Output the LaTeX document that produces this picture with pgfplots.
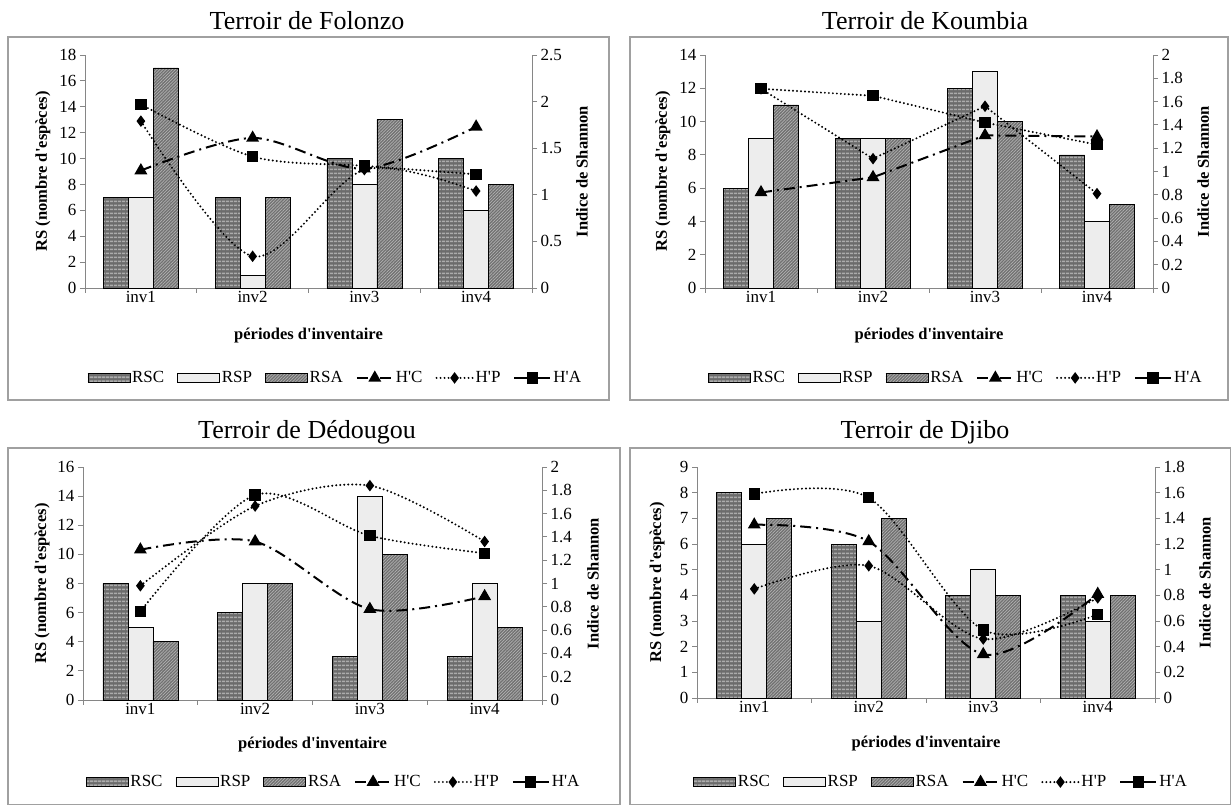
\documentclass[border=0pt]{standalone}
\usepackage{fontspec}
\setmainfont{Liberation Serif}
\usepackage{pgfplots}
\pgfplotsset{compat=1.18}
\usetikzlibrary{patterns.meta}
\definecolor{axgray}{RGB}{134,134,134}
\definecolor{framegray}{RGB}{160,160,160}
\definecolor{rscbg}{RGB}{108,108,108}
\definecolor{rscln}{RGB}{172,172,172}
\definecolor{rspbg}{RGB}{244,244,244}
\definecolor{rspdot}{RGB}{165,165,165}
\definecolor{rsabg}{RGB}{112,112,112}
\definecolor{rsaln}{RGB}{178,178,178}
\newcommand{\q}{\textquotesingle}
\pgfplotsset{
  barleg/.style={legend image code/.code={\draw[##1] (0pt,-4.5pt) rectangle (42pt,4.5pt);}},
  lineleg/.style={legend image code/.code={\draw[mark repeat=2,mark phase=2,##1] plot coordinates {(0pt,0pt) (18pt,0pt) (36pt,0pt)};}},
  rsc/.style={ybar, bar width=25pt, bar shift=-25pt, draw=black, line width=0.6pt, preaction={fill=rscbg}, pattern={Lines[angle=0,distance=4pt,line width=1.8pt]}, pattern color=rscln, barleg},
  rsp/.style={ybar, bar width=25pt, bar shift=0pt, draw=black, line width=0.6pt, preaction={fill=rspbg}, pattern={Dots[distance=2pt,radius=0.45pt]}, pattern color=rspdot, barleg},
  rsa/.style={ybar, bar width=25pt, bar shift=25pt, draw=black, line width=0.6pt, preaction={fill=rsabg}, pattern={Lines[angle=45,distance=2.2pt,line width=0.7pt]}, pattern color=rsaln, barleg},
  hc/.style={black, line width=2pt, dash pattern=on 11pt off 5pt on 2pt off 5pt, mark=triangle*, mark size=5.5pt, mark options={solid}},
  hp/.style={black, line width=2.2pt, dash pattern=on 0pt off 4pt, line cap=round, mark=diamond*, mark size=4pt, mark options={solid}},
  ha/.style={black, line width=2.2pt, dash pattern=on 0pt off 4pt, line cap=round, mark=square*, mark size=4.6pt, mark options={solid}},
  halegend/.style={lineleg, black, line width=2pt, mark=square*, mark size=4.6pt},
  common/.style={scale only axis, xmin=0.5, xmax=4.5, ymin=0,
    axis line style={-, draw=axgray, line width=0.8pt},
    tick style={draw=axgray, line width=0.8pt},
    tick align=outside, major tick length=5pt,
    tick label style={font=\fontsize{17}{19}\selectfont, text=black},
    label style={font=\bfseries\fontsize{16.5}{18}\selectfont},
    /pgf/number format/assume math mode=true,
    clip=false},
  leftax/.style={common, axis y line*=left, axis x line*=bottom,
    xtick={0.5,1.5,2.5,3.5,4.5}, xticklabels={,,,,},
    extra x ticks={1,2,3,4}, extra x tick labels={inv1,inv2,inv3,inv4},
    extra x tick style={major tick length=0pt},
    xlabel={périodes d\q inventaire},
    ylabel={RS (nombre d\q espèces)},
    legend columns=6,
    legend style={draw=none, fill=none, font=\fontsize{17}{19}\selectfont,
      /tikz/every even column/.append style={column sep=11pt}}},
  rightax/.style={common, axis y line*=right, axis x line=none, xtick=\empty,
    ylabel={Indice de Shannon}},
}
\begin{document}
\begin{tikzpicture}
\path (0pt,0pt) rectangle (1231pt,805pt);
% frames
\draw[framegray, line width=1.3pt] (8pt,768pt) rectangle (609pt,405pt);
\draw[framegray, line width=1.3pt] (630pt,768pt) rectangle (1228pt,405pt);
\draw[framegray, line width=1.3pt] (8pt,357pt) rectangle (620pt,0.7pt);
\draw[framegray, line width=1.3pt] (630pt,357pt) rectangle (1230.3pt,0.7pt);
% titles
\node[anchor=base, font=\fontsize{26}{28}\selectfont] at (307pt,775pt) {Terroir de Folonzo};
\node[anchor=base, font=\fontsize{26}{28}\selectfont] at (925pt,775pt) {Terroir de Koumbia};
\node[anchor=base, font=\fontsize{26}{28}\selectfont] at (307pt,366pt) {Terroir de Dédougou};
\node[anchor=base, font=\fontsize{26}{28}\selectfont] at (925pt,366pt) {Terroir de Djibo};

% ---------------- Folonzo ----------------
\begin{axis}[leftax, at={(85pt,517pt)}, width=447pt, height=233pt, ymax=18, ytick={0,2,...,18},
  xlabel style={at={(axis description cs:0.5,-0.202)}, anchor=center},
  ylabel style={at={(axis description cs:-0.094,0.5)}, anchor=center},
  legend style={at={(axis description cs:0.56,-0.386)}, anchor=center}]
\addplot[rsc] coordinates {(1,7) (2,7) (3,10) (4,10)}; \addlegendentry{RSC}
\addplot[rsp] coordinates {(1,7) (2,1) (3,8) (4,6)}; \addlegendentry{RSP}
\addplot[rsa] coordinates {(1,17) (2,7) (3,13) (4,8)}; \addlegendentry{RSA}
\addlegendimage{lineleg, hc} \addlegendentry{H\q C}
\addlegendimage{lineleg, hp} \addlegendentry{H\q P}
\addlegendimage{halegend} \addlegendentry{H\q A}
\end{axis}
\begin{axis}[rightax, at={(85pt,517pt)}, width=447pt, height=233pt, ymax=2.5, ytick={0,0.5,1,1.5,2,2.5},
  ylabel style={at={(axis description cs:1.112,0.5)}, anchor=center}]
\addplot[hc, smooth] coordinates {(1,1.26) (2,1.61) (3,1.28) (4,1.73)};
\addplot[hp, smooth] coordinates {(1,1.79) (2,0.34) (3,1.27) (4,1.04)};
\addplot[ha, smooth] coordinates {(1,1.97) (2,1.41) (3,1.31) (4,1.22)};
\end{axis}

% ---------------- Koumbia ----------------
\begin{axis}[leftax, at={(705pt,517pt)}, width=448pt, height=233pt, ymax=14, ytick={0,2,...,14},
  xlabel style={at={(axis description cs:0.5,-0.202)}, anchor=center},
  ylabel style={at={(axis description cs:-0.094,0.5)}, anchor=center},
  legend style={at={(axis description cs:0.56,-0.386)}, anchor=center}]
\addplot[rsc] coordinates {(1,6) (2,9) (3,12) (4,8)}; \addlegendentry{RSC}
\addplot[rsp] coordinates {(1,9) (2,9) (3,13) (4,4)}; \addlegendentry{RSP}
\addplot[rsa] coordinates {(1,11) (2,9) (3,10) (4,5)}; \addlegendentry{RSA}
\addlegendimage{lineleg, hc} \addlegendentry{H\q C}
\addlegendimage{lineleg, hp} \addlegendentry{H\q P}
\addlegendimage{halegend} \addlegendentry{H\q A}
\end{axis}
\begin{axis}[rightax, at={(705pt,517pt)}, width=448pt, height=233pt, ymax=2, ytick={0,0.2,0.4,0.6,0.8,1,1.2,1.4,1.6,1.8,2},
  ylabel style={at={(axis description cs:1.112,0.5)}, anchor=center}]
\addplot[hc] coordinates {(1,0.82) (2,0.95) (3,1.31) (4,1.30)};
\addplot[hp] coordinates {(1,1.71) (2,1.11) (3,1.56) (4,0.81)};
\addplot[ha] coordinates {(1,1.71) (2,1.65) (3,1.42) (4,1.23)};
\end{axis}

% ---------------- Dedougou ----------------
\begin{axis}[leftax, at={(83pt,105pt)}, width=459pt, height=233pt, ymax=16, ytick={0,2,...,16},
  xlabel style={at={(axis description cs:0.5,-0.193)}, anchor=center},
  ylabel style={at={(axis description cs:-0.089,0.5)}, anchor=center},
  legend style={at={(axis description cs:0.546,-0.352)}, anchor=center}]
\addplot[rsc] coordinates {(1,8) (2,6) (3,3) (4,3)}; \addlegendentry{RSC}
\addplot[rsp] coordinates {(1,5) (2,8) (3,14) (4,8)}; \addlegendentry{RSP}
\addplot[rsa] coordinates {(1,4) (2,8) (3,10) (4,5)}; \addlegendentry{RSA}
\addlegendimage{lineleg, hc} \addlegendentry{H\q C}
\addlegendimage{lineleg, hp} \addlegendentry{H\q P}
\addlegendimage{halegend} \addlegendentry{H\q A}
\end{axis}
\begin{axis}[rightax, at={(83pt,105pt)}, width=459pt, height=233pt, ymax=2, ytick={0,0.2,0.4,0.6,0.8,1,1.2,1.4,1.6,1.8,2},
  ylabel style={at={(axis description cs:1.111,0.5)}, anchor=center}]
\addplot[hc, smooth] coordinates {(1,1.29) (2,1.36) (3,0.78) (4,0.89)};
\addplot[hp, smooth] coordinates {(1,0.98) (2,1.665) (3,1.84) (4,1.36)};
\addplot[ha, smooth] coordinates {(1,0.76) (2,1.76) (3,1.41) (4,1.26)};
\end{axis}

% ---------------- Djibo ----------------
\begin{axis}[leftax, at={(697pt,107pt)}, width=458pt, height=231pt, ymax=9, ytick={0,1,...,9},
  xlabel style={at={(axis description cs:0.5,-0.195)}, anchor=center},
  ylabel style={at={(axis description cs:-0.087,0.5)}, anchor=center},
  legend style={at={(axis description cs:0.533,-0.364)}, anchor=center}]
\addplot[rsc] coordinates {(1,8) (2,6) (3,4) (4,4)}; \addlegendentry{RSC}
\addplot[rsp] coordinates {(1,6) (2,3) (3,5) (4,3)}; \addlegendentry{RSP}
\addplot[rsa] coordinates {(1,7) (2,7) (3,4) (4,4)}; \addlegendentry{RSA}
\addlegendimage{lineleg, hc} \addlegendentry{H\q C}
\addlegendimage{lineleg, hp} \addlegendentry{H\q P}
\addlegendimage{halegend} \addlegendentry{H\q A}
\end{axis}
\begin{axis}[rightax, at={(697pt,107pt)}, width=458pt, height=231pt, ymax=1.8, ytick={0,0.2,0.4,0.6,0.8,1,1.2,1.4,1.6,1.8},
  ylabel style={at={(axis description cs:1.109,0.5)}, anchor=center}]
\addplot[hc, smooth] coordinates {(1,1.35) (2,1.22) (3,0.34) (4,0.81)};
\addplot[hp, smooth] coordinates {(1,0.85) (2,1.03) (3,0.46) (4,0.78)};
\addplot[ha, smooth] coordinates {(1,1.59) (2,1.56) (3,0.53) (4,0.65)};
\end{axis}
\end{tikzpicture}
\end{document}
